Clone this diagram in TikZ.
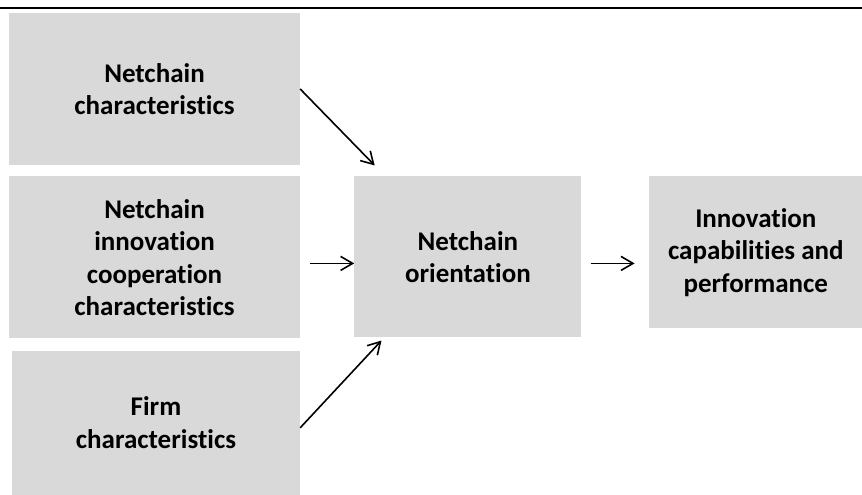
\documentclass[tikz,border=0pt]{standalone}
\usepackage{fontspec}
\setmainfont{Carlito}[Ligatures=NoCommon]
\usetikzlibrary{arrows.meta}
\usetikzlibrary{positioning}
\definecolor{boxgray}{HTML}{D9D9D9}
\tikzset {
  % grey block of the model
  factor/.style = {
    fill = boxgray,
    rectangle,
    inner sep = 0,
    align = center,
    font = \fontsize{27}{32.5}\selectfont\bfseries
  },
  % open arrow between blocks
  arr/.style = {
    draw = black,
    line width = 1.6pt,
    -{Straight Barb[length=12pt,width=14pt]}
  }
}

\begin{document}
\begin{tikzpicture}[x=1pt, y=-1pt]
    \useasboundingbox (0,0) rectangle (862,495);
    \draw[line width=2pt] (0,8) -- (862,8);

    \node[factor, minimum width=291pt, minimum height=152pt] (netchar) at (154.5,89) {Netchain\\characteristics};
    \node[factor, minimum width=291pt, minimum height=162pt] (coop) [below=11pt of netchar] {Netchain\\innovation\\cooperation\\characteristics};
    \node[factor, minimum width=288pt, minimum height=144pt] (firm) [below=12pt of coop.south east, anchor=north east] {Firm\\characteristics};
    \node[factor, minimum width=227pt, minimum height=161pt] (orient) [right=54pt of coop.north east, anchor=north west] {Netchain\\orientation};
    \node[factor, minimum width=214pt, minimum height=151.5pt] (perf) [right=67pt of orient.north east, anchor=north west] {Innovation\\capabilities and\\performance};

    \draw[arr, shorten >=15pt] (netchar.east) -- ([xshift=31pt]orient.north west);
    \draw[arr] ([xshift=10pt, yshift=-6pt]coop.east) -- ([yshift=-6.5pt]orient.west);
    \draw[arr] ([xshift=9pt, yshift=-6.5pt]orient.east) -- ([xshift=-14pt, yshift=-11.25pt]perf.west);
    \draw[arr, shorten >=4pt] ([yshift=-5pt]firm.east) -- ([xshift=30pt]orient.south west);
\end{tikzpicture}
\end{document}
